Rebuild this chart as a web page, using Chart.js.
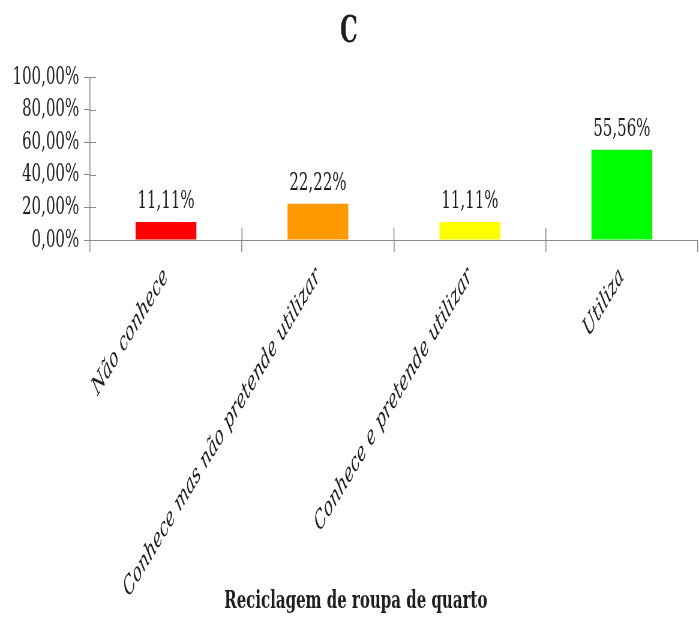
<!DOCTYPE html>
<html>
<head>
<meta charset="utf-8">
<script src="https://cdn.jsdelivr.net/npm/chart.js@4"></script>
<style>
  html, body { margin: 0; padding: 0; background: #fff; overflow: hidden; width: 699px; height: 618px; }
  #wrap { width: 1165px; height: 618px; transform: scaleX(0.6); transform-origin: 0 0; }
</style>
</head>
<body>
<div id="wrap"><canvas id="c" width="1165" height="618"></canvas></div>
<script>
const categories = ['Não conhece', 'Conhece mas não pretende utilizar', 'Conhece e pretende utilizar', 'Utiliza'];
const values = [11.11, 22.22, 11.11, 55.56];
const barColors = ['#FF0000', '#FF9900', '#FFFF00', '#00FF00'];
const chartTitle = 'C';
const xAxisTitle = 'Reciclagem de roupa de quarto';

const serif = "'DejaVu Serif', serif";
const axisColor = '#8a8a8a';
const textColor = '#1e1e1e';
const fmt = v => v.toFixed(2).replace('.', ',') + '%';

const crossTicks = {
  id: 'crossTicks',
  afterDraw(chart) {
    const ctx = chart.ctx;
    const x = chart.scales.x, y = chart.scales.y;
    ctx.save();
    ctx.strokeStyle = axisColor;
    ctx.lineWidth = 1.6;
    ctx.beginPath();
    for (let i = 1; i <= x.ticks.length; i++) {
      const px = x.getPixelForValue(i - 0.5);
      if (px > chart.chartArea.right - 3) continue;
      ctx.moveTo(px, y.bottom);
      ctx.lineTo(px, y.bottom - 12);
    }
    ctx.stroke();
    ctx.lineWidth = 1;
    ctx.beginPath();
    y.ticks.forEach(t => {
      const py = Math.round(y.getPixelForValue(t.value)) + 0.5;
      ctx.moveTo(x.left, py);
      ctx.lineTo(x.left + 10, py);
    });
    ctx.stroke();
    // x-axis title, centred like the original layout
    ctx.font = "bold 25px " + serif;
    ctx.fillStyle = textColor;
    ctx.textAlign = 'center';
    ctx.textBaseline = 'middle';
    ctx.fillText(xAxisTitle, chart.width * 0.509, chart.height - 17);
    ctx.restore();
  }
};

const valueLabels = {
  id: 'valueLabels',
  afterDatasetsDraw(chart) {
    const ctx = chart.ctx;
    const meta = chart.getDatasetMeta(0);
    ctx.save();
    ctx.font = "25px " + serif;
    ctx.fillStyle = textColor;
    ctx.textAlign = 'center';
    ctx.textBaseline = 'bottom';
    meta.data.forEach((bar, i) => {
      ctx.fillText(fmt(values[i]), bar.x, bar.y - 8);
    });
    ctx.restore();
  }
};

new Chart(document.getElementById('c'), {
  type: 'bar',
  data: {
    labels: categories,
    datasets: [{
      data: values,
      backgroundColor: barColors,
      borderWidth: 0,
      barPercentage: 0.40,
      categoryPercentage: 1
    }]
  },
  options: {
    responsive: false,
    animation: false,
    layout: { padding: { top: 0, right: 2, left: 0, bottom: 0 } },
    plugins: {
      legend: { display: false },
      tooltip: { enabled: false },
      title: {
        display: true,
        text: chartTitle,
        color: textColor,
        font: { family: serif, size: 37, weight: 'bold', lineHeight: 1.2 },
        padding: { top: 10, bottom: 23 }
      }
    },
    scales: {
      y: {
        min: 0, max: 100,
        ticks: {
          stepSize: 20,
          autoSkip: false,
          color: textColor,
          padding: 8,
          font: { family: serif, size: 25 },
          callback: v => fmt(v)
        },
        grid: { drawOnChartArea: false, tickLength: 10, color: axisColor, lineWidth: 1 },
        border: { color: axisColor, width: 1.6 },
        afterFit(s) { s.width = 150; }
      },
      x: {
        offset: true,
        ticks: {
          color: textColor,
          minRotation: 45, maxRotation: 45,
          autoSkip: false,
          padding: 10,
          font: { family: serif, size: 25.5, style: 'italic' }
        },
        grid: { offset: true, drawOnChartArea: false, tickLength: 12, color: axisColor, lineWidth: 1.6 },
        border: { color: axisColor, width: 1 },
        title: { display: false },
        afterFit(s) { s.height = 378; }
      }
    }
  },
  plugins: [crossTicks, valueLabels]
});
</script>
</body>
</html>
